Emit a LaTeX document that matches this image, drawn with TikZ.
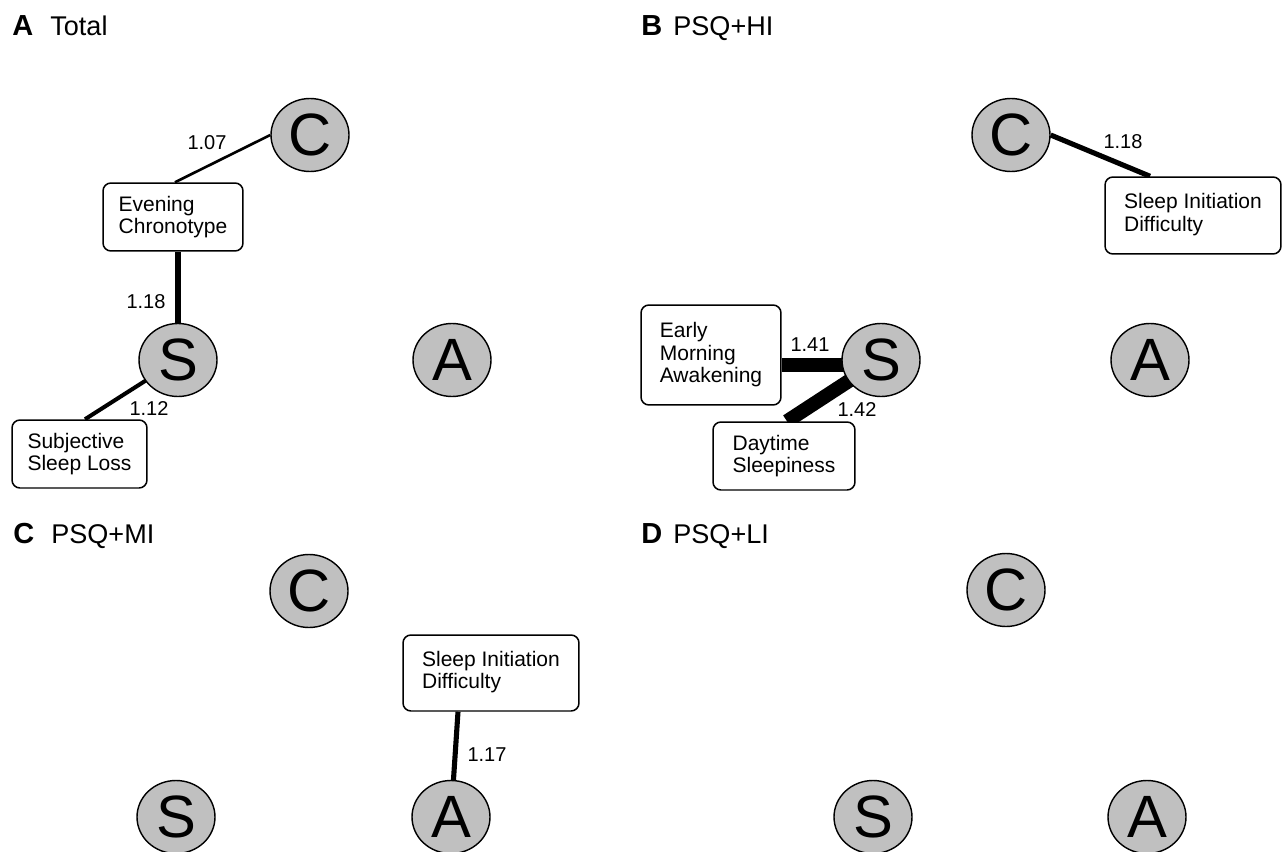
\documentclass[tikz,border=0pt]{standalone}
\usepackage{fontspec}
\setmainfont{Liberation Sans}
\usetikzlibrary{shapes.geometric,backgrounds}
\definecolor{nodegray}{RGB}{192,192,192}
\begin{document}
\begin{tikzpicture}[x=0.02cm,y=-0.02cm,
  var/.style={ellipse,draw=black,line width=0.8pt,fill=nodegray,
    minimum width=1.56cm,minimum height=1.46cm,inner sep=0pt,
    font=\fontsize{34}{34}\selectfont},
  symptom/.style={draw=black,line width=0.85pt,fill=white,rounded corners=4.5pt,
    align=left,inner xsep=0.2cm,inner ysep=0pt,
    font=\fontsize{11.95}{12.8}\selectfont},
  wlabel/.style={inner sep=0pt,font=\fontsize{11.4}{12}\selectfont},
  ptag/.style={anchor=base west,inner sep=0pt,font=\fontsize{16.5}{18}\selectfont\bfseries},
  ptitle/.style={anchor=base west,inner sep=0pt,font=\fontsize{15.4}{18}\selectfont},
  link/.style={draw=black,line cap=butt}
]
\useasboundingbox (0,0) rectangle (1282,852);

% ---------- panel titles ----------
\node[ptag]   (tA)  at (12,35)   {A};
\node[ptitle] (ttA) at (50,35)   {Total};
\node[ptag]   (tB)  at (641,35)  {B};
\node[ptitle] (ttB) at (673,35)  {PSQ+HI};
\node[ptag]   (tC)  at (13,543)  {C};
\node[ptitle] (ttC) at (51,543)  {PSQ+MI};
\node[ptag]   (tD)  at (641,543) {D};
\node[ptitle] (ttD) at (673,543) {PSQ+LI};

% ---------- panel A: Total ----------
\node[var] (cA) at (310,135) {C};
\node[var] (sA) at (178,360) {S};
\node[var] (aA) at (452,360) {A};
\node[symptom,minimum width=2.8cm,minimum height=1.36cm] (evA) at (173,217) {Evening\\Chronotype};
\node[symptom,minimum width=2.7cm,minimum height=1.36cm] (slA) at (79.5,454) {Subjective\\Sleep Loss};

% ---------- panel B: PSQ+HI ----------
\node[var] (cB) at (1011,135) {C};
\node[var] (sB) at (881,360) {S};
\node[var] (aB) at (1150,360) {A};
\node[symptom,minimum width=3.52cm,minimum height=1.54cm] (sidB) at (1193,215.5) {Sleep Initiation\\Difficulty\\[-9pt]};
\node[symptom,minimum width=2.8cm,minimum height=2.0cm] (emB) at (711,355) {Early\\Morning\\Awakening};
\node[symptom,minimum width=2.84cm,minimum height=1.36cm] (dsB) at (784,456) {Daytime\\Sleepiness};

% ---------- panel C: PSQ+MI ----------
\node[var] (cC) at (309,591) {C};
\node[var] (sC) at (176,817) {S};
\node[var] (aC) at (451,817) {A};
\node[symptom,minimum width=3.52cm,minimum height=1.52cm] (sidC) at (491,673) {Sleep Initiation\\Difficulty\\[-9pt]};

% ---------- panel D: PSQ+LI ----------
\node[var] (cD) at (1006,590) {C};
\node[var] (sD) at (873,817) {S};
\node[var] (aD) at (1147,817) {A};

% ---------- edges (behind the nodes) ----------
\begin{pgfonlayer}{background}
\fill[white] (0,0) rectangle (1282,852);
\draw[link,line width=1.5pt] (cA.west) -- ([xshift=0.04cm]evA.north);
\draw[link,line width=3pt]   (sA.center) -- (sA.center |- evA.south);
\draw[link,line width=2.3pt] (sA.center) -- ([xshift=0.11cm]slA.north);
\draw[link,line width=2.9pt] (cB.east) -- ([xshift=-0.86cm]sidB.north);
\draw[link,line width=7.6pt] ([yshift=-0.1cm]sB.center) -- ([yshift=-0.1cm]sB.center -| emB.east);
\draw[link,line width=8pt]   (sB.center) -- ([xshift=0.06cm]dsB.north);
\draw[link,line width=2.9pt] (aC.center) -- ([xshift=-0.66cm]sidC.south);
\end{pgfonlayer}

% ---------- edge weights ----------
\node[wlabel] (w1) at (207,143)  {1.07};
\node[wlabel] (w2) at (146,302)  {1.18};
\node[wlabel] (w3) at (149,409)  {1.12};
\node[wlabel] (w4) at (1123,142) {1.18};
\node[wlabel] (w5) at (810,345)  {1.41};
\node[wlabel] (w6) at (857,410)  {1.42};
\node[wlabel] (w7) at (487,755)  {1.17};
\end{tikzpicture}
\end{document}
